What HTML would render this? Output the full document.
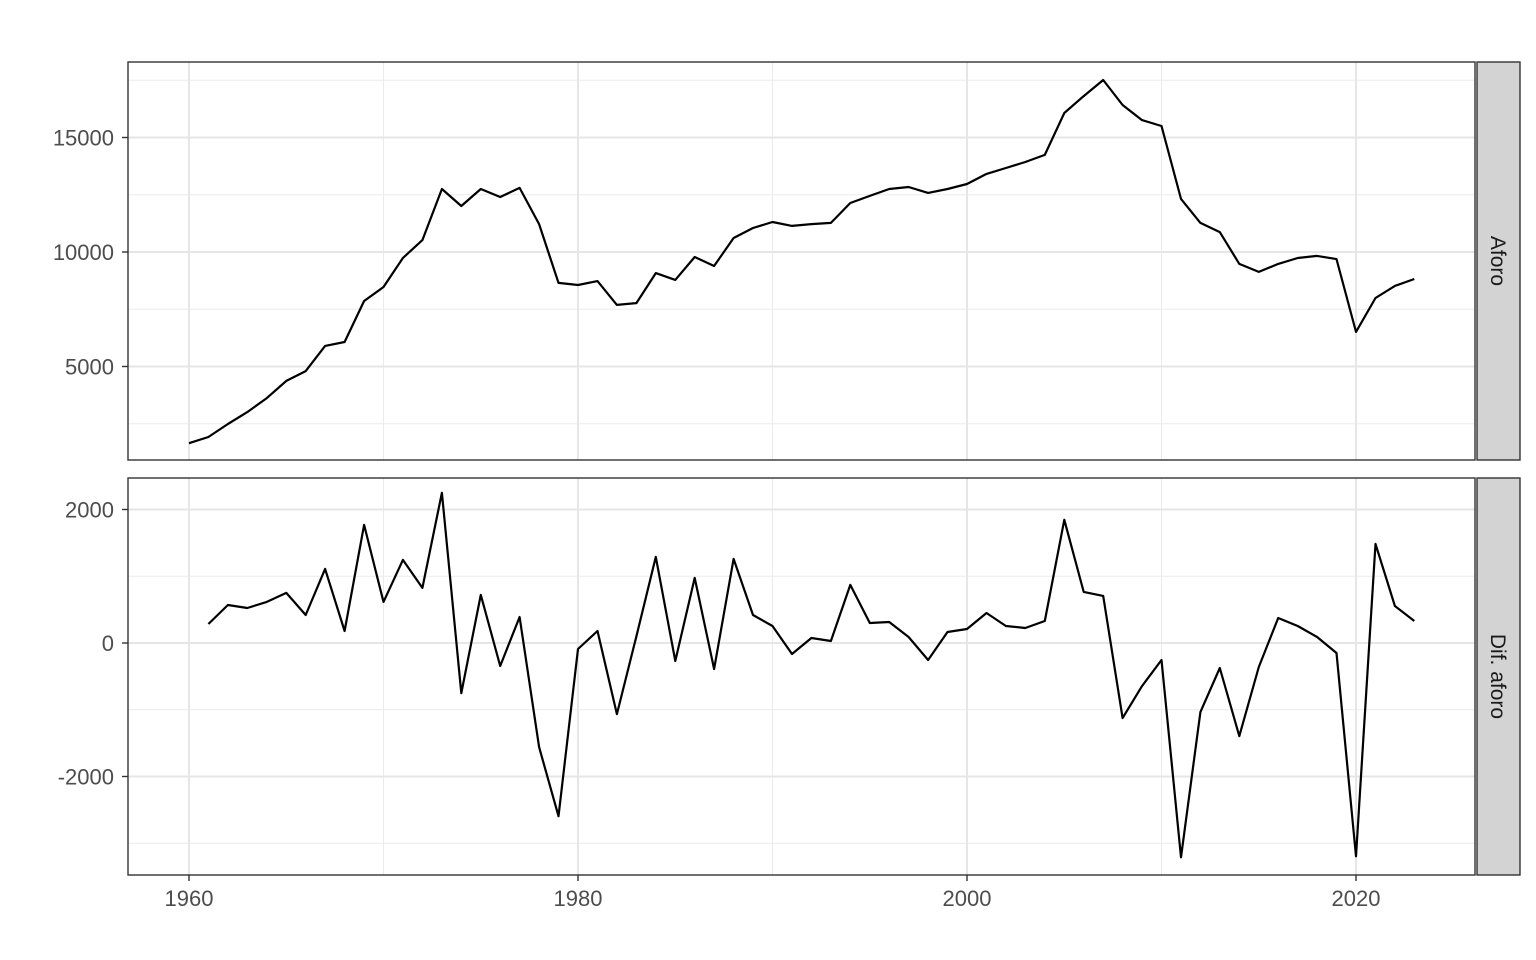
<!DOCTYPE html>
<html><head><meta charset="utf-8"><style>
body{margin:0;background:#fff;}
svg{display:block;font-family:"Liberation Sans",sans-serif;}
</style></head><body>
<svg id="chart" width="1536" height="960"></svg>
<script>
const years=[];for(let y=1960;y<=2023;y++)years.push(y);
const aforo=[1650,1920,2490,3010,3620,4370,4800,5900,6070,7860,8470,9740,10520,12750,12010,12750,12400,12800,11220,8650,8560,8730,7690,7770,9080,8780,9780,9390,10610,11050,11310,11140,11220,11270,12140,12450,12750,12840,12580,12750,12970,13410,13670,13930,14240,16070,16810,17510,16420,15760,15500,12320,11270,10870,9480,9130,9480,9740,9830,9690,6510,7990,8520,8820];
const difYears=years.slice(1);
const difAforo=[285,570,525,615,750,420,1110,180,1770,615,1245,825,2250,-750,720,-345,390,-1560,-2595,-90,180,-1065,100,1290,-270,975,-390,1260,420,255,-165,75,30,870,300,315,90,-255,165,210,450,255,225,330,1845,765,705,-1125,-645,-255,-3210,-1035,-375,-1395,-360,375,255,90,-150,-3195,1485,555,330];
const xMajor=[1960,1980,2000,2020],xMinor=[1970,1990,2010];
const topMajor=[5000,10000,15000],topMinor=[2500,7500,12500,17500];
const botMajor=[-2000,0,2000],botMinor=[-3000,-1000,1000];
const NS="http://www.w3.org/2000/svg",svg=document.getElementById('chart');
function mk(t,a,p){const e=document.createElementNS(NS,t);for(const k in a)e.setAttribute(k,a[k]);(p||svg).appendChild(e);return e;}
const L=128,R=1475;
const x=v=>189+(v-1960)*(1356-189)/60;
function panel(name,top,bot,yf,major,minor,xs,vals,strip){
  const g=mk('g',{});
  
  
  minor.forEach(v=>mk('line',{x1:L,x2:R,y1:yf(v),y2:yf(v),stroke:'#ebebeb','stroke-width':1},g));
  xMinor.forEach(v=>mk('line',{x1:x(v),x2:x(v),y1:top,y2:bot,stroke:'#ebebeb','stroke-width':1},g));
  major.forEach(v=>mk('line',{x1:L,x2:R,y1:yf(v),y2:yf(v),stroke:'#e6e6e6','stroke-width':2},g));
  xMajor.forEach(v=>mk('line',{x1:x(v),x2:x(v),y1:top,y2:bot,stroke:'#e6e6e6','stroke-width':2},g));
  const p=mk('path',{d:vals.map((v,i)=>(i?'L':'M')+x(xs[i]).toFixed(1)+','+yf(v).toFixed(1)).join(''),fill:'none',stroke:'#000','stroke-width':2.2,'stroke-linejoin':'round'},g);
  
  
  mk('rect',{x:L,y:top,width:R-L,height:bot-top,fill:'none',stroke:'#333','stroke-width':1.4},g);
  major.forEach(v=>{
    mk('line',{x1:L-6,x2:L,y1:yf(v),y2:yf(v),stroke:'#333','stroke-width':1.4},g);
    const t=mk('text',{x:L-14,y:yf(v)+8,'text-anchor':'end','font-size':22,fill:'#4d4d4d'},g);t.textContent=v;
    
    
  });
  const s=mk('rect',{x:1477,y:top,width:43,height:bot-top,fill:'#d3d3d3',stroke:'#333','stroke-width':1.4},g);
  
  
  const cy=(top+bot)/2;
  const st=mk('text',{x:1498,y:cy,'text-anchor':'middle','font-size':21,fill:'#1a1a1a',transform:`rotate(90 1498 ${cy})`,dy:7},g);st.textContent=strip;
  
  
}
panel('aforo',62,460,v=>252-(v-10000)*114.5/5000,topMajor,topMinor,years,aforo,'Aforo');
panel('dif-aforo',478,875,v=>643-v*133.5/2000,botMajor,botMinor,difYears,difAforo,'Dif. aforo');
xMajor.forEach(v=>{
  mk('line',{x1:x(v),x2:x(v),y1:875,y2:881,stroke:'#333','stroke-width':1.4});
  const t=mk('text',{x:x(v),y:906,'text-anchor':'middle','font-size':22,fill:'#4d4d4d'});t.textContent=v;
  
  
});
</script>
</body></html>
